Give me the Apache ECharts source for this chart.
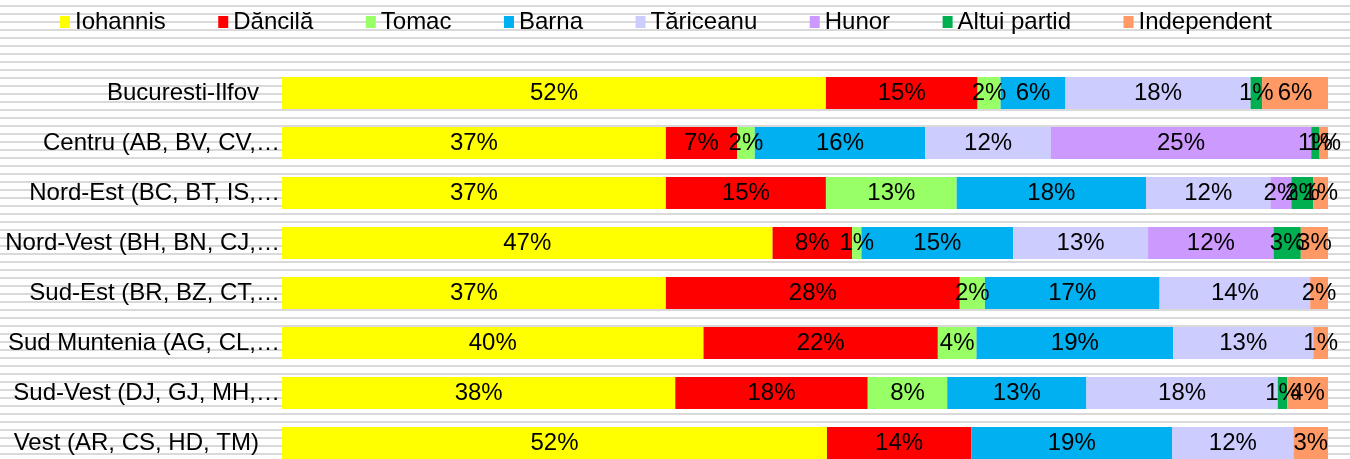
<!DOCTYPE html>
<html>
<head>
<meta charset="utf-8">
<title>Vot pe regiuni</title>
<script src="https://cdn.jsdelivr.net/npm/echarts@6/dist/echarts.min.js"></script>
<style>
  html, body {
    margin: 0;
    padding: 0;
    background: #fff;
  }
  #chart {
    width: 1350px;
    height: 459px;
    /* striped background, 8px period */
    background: repeating-linear-gradient(to bottom, #fff 0, #fff 5px, #d9d9d9 5px, #d9d9d9 7px, #fff 7px, #fff 8px);
  }
</style>
</head>
<body>
<div id="chart"></div>
<script>
const categories = [
  'Bucuresti-Ilfov',
  'Centru (AB, BV, CV,…',
  'Nord-Est (BC, BT, IS,…',
  'Nord-Vest (BH, BN, CJ,…',
  'Sud-Est (BR, BZ, CT,…',
  'Sud Muntenia (AG, CL,…',
  'Sud-Vest (DJ, GJ, MH,…',
  'Vest (AR, CS, HD, TM)'
];

// share of vote per region, in %
const iohannis = [52.0, 36.7, 36.7, 46.9, 36.7, 40.3, 37.6, 52.1];
const dancila = [14.5, 6.8, 15.3, 7.6, 28.1, 22.4, 18.4, 13.8];
const tomac = [2.2, 1.7, 12.5, 0.9, 2.4, 3.7, 7.6, 0];
const barna = [6.2, 16.3, 18.1, 14.5, 16.7, 18.8, 13.3, 19.2];
const tariceanu = [17.7, 12.0, 11.9, 12.9, 14.4, 13.4, 18.3, 11.6];
const hunor = [0, 24.9, 2.0, 12.0, 0, 0, 0, 0];
const altuiPartid = [1.1, 0.8, 2.1, 2.6, 0, 0, 0.9, 0];
const independent = [6.3, 0.8, 1.4, 2.6, 1.7, 1.4, 3.9, 3.3];

const seriesDefs = [
  { name: 'Iohannis', data: iohannis, color: '#FFFF00' },
  { name: 'Dăncilă', data: dancila, color: '#FF0000' },
  { name: 'Tomac', data: tomac, color: '#99FF66' },
  { name: 'Barna', data: barna, color: '#00B0F0' },
  { name: 'Tăriceanu', data: tariceanu, color: '#CCCCFF' },
  { name: 'Hunor', data: hunor, color: '#CC99FF' },
  { name: 'Altui partid', data: altuiPartid, color: '#00B050' },
  { name: 'Independent', data: independent, color: '#FF9966' }
];

const FONT = "'Liberation Sans', Arial, sans-serif";
const SIZE = 24;

const chart = echarts.init(document.getElementById('chart'));

const option = {
  backgroundColor: 'transparent',
  animation: false,
  legend: {
    top: 5,
    left: 55,
    icon: 'rect',
    itemWidth: 10,
    itemHeight: 12,
    itemGap: 52.5,
    textStyle: { color: '#000', fontSize: SIZE, fontFamily: FONT }
  },
  grid: {
    left: 282,
    right: 22,
    top: 68,
    bottom: -9,
    outerBoundsMode: 'none'
  },
  xAxis: {
    type: 'value',
    min: 0,
    max: 100,
    show: false
  },
  yAxis: {
    type: 'category',
    data: categories,
    inverse: true,
    axisLine: { show: false },
    axisTick: { show: false },
    splitLine: { show: false },
    axisLabel: {
      margin: 2,
      color: '#000',
      fontSize: SIZE,
      fontFamily: FONT,
      // full names sit further from the bars than the cut ones
      formatter: (v) => (v.endsWith('…') ? '{t|' + v + '}' : '{n|' + v + '}'),
      rich: {
        t: { fontSize: SIZE, fontFamily: FONT, color: '#000' },
        n: { fontSize: SIZE, fontFamily: FONT, color: '#000', padding: [0, 21, 0, 0] }
      }
    }
  },
  series: seriesDefs.map((s) => ({
    name: s.name,
    type: 'bar',
    stack: 'total',
    data: s.data,
    barWidth: 32,
    itemStyle: { color: s.color },
    label: {
      show: true,
      position: 'inside',
      color: '#000',
      fontSize: SIZE,
      fontFamily: FONT,
      formatter: (p) => (p.value > 0 ? Math.round(p.value) + '%' : '')
    }
  }))
};

chart.setOption(option);
</script>
</body>
</html>
